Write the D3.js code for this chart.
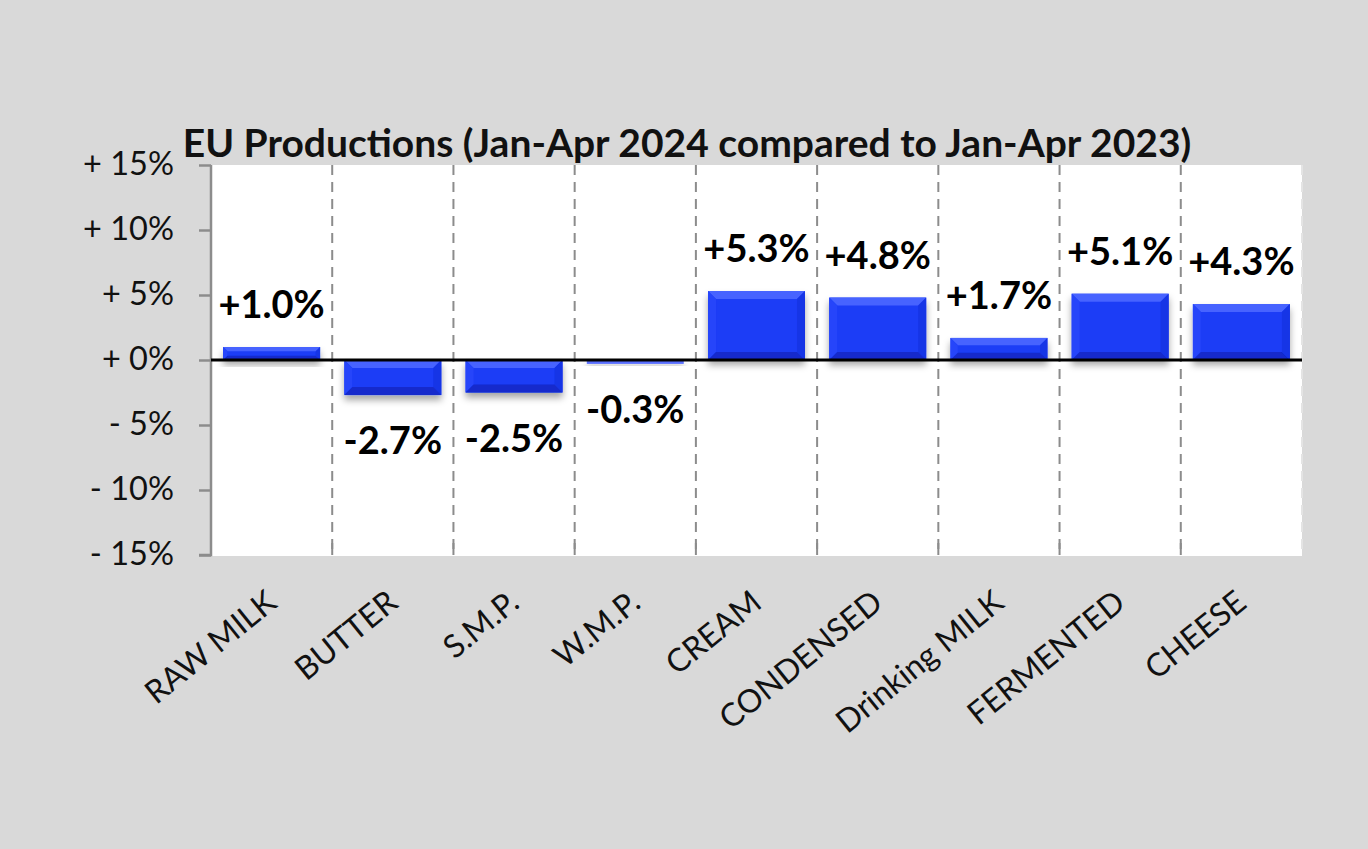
<!DOCTYPE html>
<html>
<head>
<meta charset="utf-8">
<script src="https://cdn.jsdelivr.net/npm/d3@7"></script>
<style>
  html, body { margin: 0; padding: 0; background: #d9d9d9; }
  svg { display: block; }
</style>
</head>
<body>
<svg id="chart" width="1368" height="849"></svg>
<script>
const categories = ["RAW MILK", "BUTTER", "S.M.P.", "W.M.P.", "CREAM", "CONDENSED", "Drinking MILK", "FERMENTED", "CHEESE"];
const values = [1.0, -2.7, -2.5, -0.3, 5.3, 4.8, 1.7, 5.1, 4.3];
const yTicks = [15, 10, 5, 0, -5, -10, -15];
const yTickLabels = ["+ 15%", "+ 10%", "+ 5%", "+ 0%", "- 5%", "- 10%", "- 15%"];
const titleText = "EU Productions (Jan-Apr 2024 compared to Jan-Apr 2023)";

const fmt = v => (v >= 0 ? "+" : "") + v.toFixed(1) + "%";

const svg = d3.select("#chart");
const W = 1368, H = 849;
const plot = { left: 211, right: 1302, top: 165, bottom: 555 };

svg.append("rect").attr("width", W).attr("height", H).attr("fill", "#d9d9d9");

const defs = svg.append("defs");
const f = defs.append("filter").attr("id", "shadow").attr("x", "-20%").attr("y", "-30%").attr("width", "140%").attr("height", "180%");
f.append("feDropShadow").attr("dx", 0).attr("dy", 5).attr("stdDeviation", 3.5)
  .attr("flood-color", "#000").attr("flood-opacity", 0.35);

const x = d3.scaleBand().domain(categories).range([plot.left, plot.right]).paddingInner(0.2).paddingOuter(0.1);
const y = d3.scaleLinear().domain([-15, 15]).range([plot.bottom, plot.top]);

// plot area
svg.append("rect").attr("x", plot.left).attr("y", plot.top)
  .attr("width", plot.right - plot.left).attr("height", plot.bottom - plot.top + 1)
  .attr("fill", "#ffffff");

// dashed category separators
const step = x.step();
const seps = d3.range(1, categories.length + 1).map(i => plot.left + i * step);
svg.append("g").selectAll("line").data(seps).join("line")
  .attr("x1", d => d).attr("x2", d => d)
  .attr("y1", plot.top).attr("y2", plot.bottom)
  .attr("stroke", (d, i) => i === seps.length - 1 ? "#e4e4e4" : "#8c8c8c")
  .attr("stroke-width", 2)
  .attr("stroke-dasharray", "10,7");
// bottom solid ticks
svg.append("g").selectAll("line").data(seps.slice(0, -1)).join("line")
  .attr("x1", d => d).attr("x2", d => d)
  .attr("y1", plot.bottom - 12).attr("y2", plot.bottom)
  .attr("stroke", "#8c8c8c").attr("stroke-width", 2);

// y axis
const yAxis = d3.axisLeft(y).tickValues(yTicks).tickSize(12).tickFormat((d, i) => yTickLabels[i]);
const gy = svg.append("g").attr("transform", `translate(${plot.left},0)`).call(yAxis);
gy.select(".domain").attr("stroke", "#8c8c8c").attr("stroke-width", 2.5).attr("d", `M-12,${plot.bottom}H0V${plot.top}`);
gy.selectAll(".tick line").attr("stroke", "#8c8c8c").attr("stroke-width", 2.5);
gy.selectAll(".tick text")
  .attr("x", -37).attr("dy", "0.28em")
  .attr("font-family", "Lato, 'Open Sans', sans-serif").attr("font-size", 32.5)
  .attr("fill", "#111");

// bars
const bars = svg.append("g");
categories.forEach((c, i) => {
  const v = values[i];
  const x0 = x(c), w = x.bandwidth();
  const y0 = Math.min(y(0), y(v)), y1 = Math.max(y(0), y(v));
  const h = Math.max(y1 - y0, 1.5);
  const g = bars.append("g").attr("filter", "url(#shadow)");
  g.append("rect").attr("x", x0).attr("y", y0).attr("width", w).attr("height", h).attr("fill", "#1b3cf6");
  const b = Math.min(8, h / 3);
  if (h > 4) {
    const xr = x0 + w, yb = y0 + h;
    g.append("polygon").attr("points", `${x0},${y0} ${xr},${y0} ${xr - b},${y0 + b} ${x0 + b},${y0 + b}`).attr("fill", "#4763ff");
    g.append("polygon").attr("points", `${x0},${y0} ${x0 + b},${y0 + b} ${x0 + b},${yb - b} ${x0},${yb}`).attr("fill", "#2645fa");
    g.append("polygon").attr("points", `${xr},${y0} ${xr - b},${y0 + b} ${xr - b},${yb - b} ${xr},${yb}`).attr("fill", "#1834e6");
    g.append("polygon").attr("points", `${x0},${yb} ${x0 + b},${yb - b} ${xr - b},${yb - b} ${xr},${yb}`).attr("fill", "#122bcc");
  } else {
    g.select("rect").attr("fill", "#5a70ff");
  }
});

// zero line
svg.append("line").attr("x1", plot.left).attr("x2", plot.right)
  .attr("y1", y(0)).attr("y2", y(0)).attr("stroke", "#000").attr("stroke-width", 3);

// value labels
svg.append("g").selectAll("text").data(values).join("text")
  .attr("x", (d, i) => x(categories[i]) + x.bandwidth() / 2)
  .attr("y", d => d >= 0 ? y(d) - 29 : y(d) + 59)
  .attr("text-anchor", "middle")
  .attr("font-family", "Lato, 'Open Sans', sans-serif")
  .attr("font-weight", "bold").attr("font-size", 38).attr("fill", "#000")
  .text(d => fmt(d));

// category labels
svg.append("g").selectAll("text").data(categories).join("text")
  .attr("text-anchor", "end")
  .attr("transform", d => `translate(${x(d) + x.bandwidth() / 2 + 7},606) rotate(-39)`)
  .attr("font-family", "Lato, 'Open Sans', sans-serif")
  .attr("font-size", 32).attr("fill", "#111")
  .text(d => d);

// title
const t = svg.append("text").attr("x", 687).attr("y", 157).attr("text-anchor", "middle")
  .attr("font-family", "Lato, 'Open Sans', sans-serif").attr("font-weight", "bold")
  .attr("font-size", 35).attr("fill", "#111").text(titleText);
const len = t.node().getComputedTextLength();
t.attr("font-size", 35 * 1009 / len);
</script>
</body>
</html>
